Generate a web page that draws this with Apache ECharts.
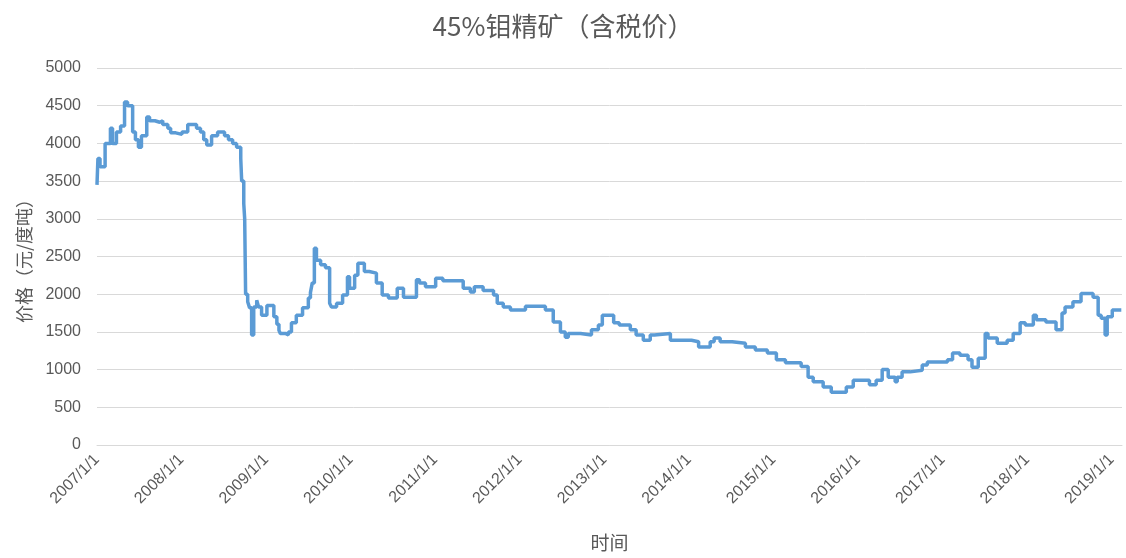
<!DOCTYPE html>
<html><head><meta charset="utf-8">
<script src="https://cdn.jsdelivr.net/npm/echarts@6/dist/echarts.min.js"></script>
<style>html,body{margin:0;padding:0;background:#fff}#c{width:1126px;height:558px}</style>
</head><body><div id="c"></div>
<script>
const chartTitle = '45%钼精矿（含税价）';
const yAxisName = '价格（元/度吨）';
const xAxisName = '时间';
const yTicks = [0, 500, 1000, 1500, 2000, 2500, 3000, 3500, 4000, 4500, 5000];
const dates = [
'2007-01-01','2007-01-05','2007-01-14','2007-02-05','2007-02-28','2007-03-09','2007-03-26','2007-04-13','2007-04-30','2007-05-13',
'2007-06-04','2007-06-16','2007-06-29','2007-07-12','2007-08-04','2007-08-16','2007-09-08','2007-09-29','2007-10-12','2007-11-03',
'2007-11-15','2007-12-07','2008-01-03','2008-01-28','2008-03-06','2008-03-23','2008-04-06','2008-04-19','2008-05-10','2008-06-05',
'2008-07-05','2008-07-22','2008-08-09','2008-08-26','2008-09-13','2008-09-17','2008-09-26','2008-09-30','2008-10-04','2008-10-13',
'2008-10-21','2008-10-30','2008-11-08','2008-11-21','2008-11-29','2008-12-12','2009-01-04','2009-02-03','2009-02-16','2009-02-25',
'2009-03-03','2009-03-25','2009-04-07','2009-04-20','2009-05-11','2009-06-07','2009-07-02','2009-07-11','2009-07-19','2009-07-28',
'2009-08-06','2009-08-24','2009-09-14','2009-10-02','2009-10-10','2009-11-01','2009-11-27','2009-12-18','2009-12-27','2010-01-18',
'2010-02-01','2010-03-01','2010-03-22','2010-04-22','2010-05-17','2010-06-13','2010-07-21','2010-08-17','2010-10-12','2010-10-25',
'2010-11-20','2011-01-03','2011-02-03','2011-05-02','2011-06-02','2011-06-19','2011-07-27','2011-09-10','2011-09-26','2011-10-22',
'2011-11-22','2012-01-26','2012-04-21','2012-05-25','2012-06-25','2012-07-16','2012-07-29','2012-09-20','2012-11-06','2012-12-06',
'2012-12-23','2013-02-10','2013-03-06','2013-04-23','2013-05-18','2013-06-18','2013-07-18','2013-08-05','2013-10-13','2014-01-12',
'2014-02-12','2014-04-03','2014-04-20','2014-05-16','2014-07-07','2014-09-02','2014-10-15','2014-12-06','2015-01-14','2015-02-22',
'2015-05-01','2015-05-31','2015-06-22','2015-08-04','2015-09-08','2015-11-12','2015-12-12','2016-02-20','2016-03-20','2016-04-15',
'2016-05-11','2016-06-10','2016-06-19','2016-07-10','2016-08-14','2016-10-05','2016-10-27','2017-01-22','2017-02-13','2017-03-17',
'2017-04-21','2017-05-08','2017-06-04','2017-07-04','2017-07-16','2017-08-25','2017-10-07','2017-11-02','2017-12-02','2017-12-24',
'2018-01-28','2018-02-10','2018-03-23','2018-05-06','2018-06-01','2018-06-14','2018-07-18','2018-08-22','2018-10-13','2018-11-04',
'2018-11-17','2018-12-04','2018-12-13','2019-01-04','2019-02-12'
];
const prices = [
3450,3800,3690,4000,4200,4000,4150,4230,4550,4500,
4150,4050,3950,4100,4350,4300,4280,4300,4250,4200,
4140,4120,4150,4250,4200,4150,4050,3980,4100,4150,
4100,4050,4000,3950,3800,3500,3200,3000,2000,1900,
1820,1460,1830,1920,1830,1720,1850,1700,1600,1520,
1480,1460,1500,1620,1720,1820,1950,2020,2150,2610,
2450,2390,2350,1880,1830,1880,1990,2230,2080,2250,
2410,2300,2280,2150,1990,1950,2080,1960,2190,2150,
2100,2210,2180,2080,2030,2100,2050,1990,1880,1830,
1790,1840,1790,1630,1500,1430,1480,1460,1530,1590,
1720,1620,1590,1530,1460,1390,1460,1480,1390,1370,
1300,1370,1420,1370,1350,1300,1260,1220,1130,1090,
1040,900,840,770,700,770,860,800,860,1000,
900,840,900,970,990,1060,1100,1130,1220,1190,
1130,1030,1150,1480,1420,1350,1390,1480,1620,1590,
1720,1660,1630,1530,1750,1830,1900,2010,1960,1720,
1680,1460,1700,1790,1790
];
const axisStart = '2007-01-01';
const axisEnd = '2019-02-15';

const seriesData = dates.map((d, i) => [d, prices[i]]);
const textColor = '#595959';
const gridColor = '#D9D9D9';

const chart = echarts.init(document.getElementById('c'));
chart.setOption({
  animation: false,
  backgroundColor: '#fff',
  title: {
    text: chartTitle, left: 'center', top: 8,
    textStyle: { fontFamily: 'Noto Sans CJK SC', fontSize: 26, fontWeight: 'normal', color: textColor }
  },
  grid: { left: 97, right: 4, top: 68, bottom: 113, containLabel: false, outerBoundsMode: 'none' },
  xAxis: {
    type: 'time', min: axisStart, max: axisEnd,
    minInterval: 365 * 86400000, maxInterval: 366 * 86400000,
    name: xAxisName, nameLocation: 'middle', nameGap: 88,
    nameTextStyle: { fontFamily: 'Noto Sans CJK SC', fontSize: 19, color: textColor },
    axisLine: { lineStyle: { color: gridColor, width: 1 } },
    axisTick: { show: false },
    splitLine: { show: false },
    axisLabel: {
      rotate: 45, margin: 12, color: textColor, fontSize: 16, fontFamily: 'Liberation Sans',
      formatter: function (v) {
        const d = new Date(v);
        if (d.getMonth() === 0 && d.getDate() === 1) return d.getFullYear() + '/1/1';
        return '';
      }
    }
  },
  yAxis: {
    type: 'value', min: yTicks[0], max: yTicks[yTicks.length - 1], interval: 500,
    name: yAxisName, nameLocation: 'middle', nameGap: 64,
    nameTextStyle: { fontFamily: 'Noto Sans CJK SC', fontSize: 18, color: textColor },
    axisLine: { show: false }, axisTick: { show: false },
    splitLine: { lineStyle: { color: gridColor, width: 1 } },
    axisLabel: {
      color: textColor, fontSize: 16, margin: 16, fontFamily: 'Liberation Sans',
      formatter: function (v) { return String(v); }
    }
  },
  series: [{
    type: 'line', step: 'end', data: seriesData, symbol: 'none',
    lineStyle: { color: '#5B9BD5', width: 3.5 }
  }]
});
</script>
</body></html>
